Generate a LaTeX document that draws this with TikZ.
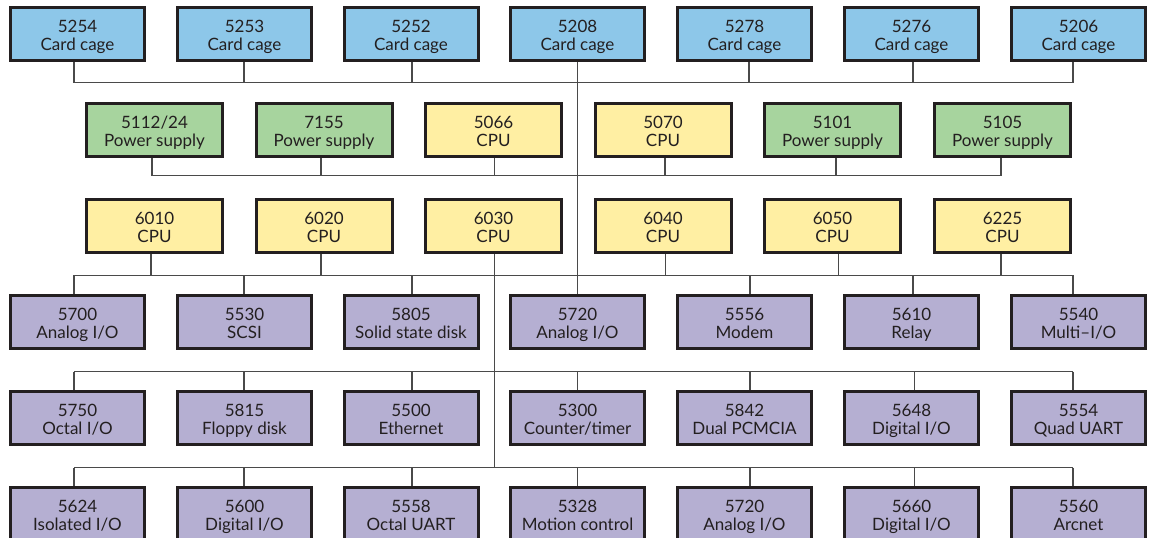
\documentclass[tikz,border=0pt]{standalone}
\usepackage{fontspec}
\setmainfont{Lato}
\usetikzlibrary{backgrounds}
\definecolor{cagefill}{HTML}{8DC7E9}
\definecolor{psufill}{HTML}{A7D49E}
\definecolor{cpufill}{HTML}{FFEFA3}
\definecolor{iofill}{HTML}{B5AFD2}
\definecolor{edgecol}{HTML}{231F20}
\definecolor{wirecol}{HTML}{4A4A4A}
\begin{document}
\begin{tikzpicture}[x=1pt,y=-1pt,
  box/.style={draw=edgecol,line width=3pt,minimum height=53pt,inner sep=0pt,
    align=center,font=\fontsize{17}{18}\selectfont,text=edgecol,
    text height=32pt,text depth=0pt},
  wsev/.style={box,minimum width=134pt},
  wsix/.style={box,minimum width=136pt},
  cagebox/.style={wsev,fill=cagefill},
  psubox/.style={wsix,fill=psufill},
  cpubox/.style={wsix,fill=cpufill},
  iobox/.style={wsev,fill=iofill},
  wire/.style={draw=wirecol,line width=1.5pt}]
\useasboundingbox (0,0) rectangle (1154,538);
\clip (0,0) rectangle (1154,538);

% row 1
\node[cagebox] (a1) at (77.5,34)  {5254\\Card cage};
\node[cagebox] (a2) at (244.5,34) {5253\\Card cage};
\node[cagebox] (a3) at (411,34)   {5252\\Card cage};
\node[cagebox] (a4) at (577.5,34) {5208\\Card cage};
\node[cagebox] (a5) at (744.5,34) {5278\\Card cage};
\node[cagebox] (a6) at (911.5,34) {5276\\Card cage};
\node[cagebox] (a7) at (1078.5,34){5206\\Card cage};
% row 2
\node[psubox] (b1) at (154.5,130) {5112/24\\Power supply};
\node[psubox] (b2) at (324,130)   {7155\\Power supply};
\node[cpubox] (b3) at (493.5,130) {5066\\CPU};
\node[cpubox] (b4) at (663,130)   {5070\\CPU};
\node[psubox] (b5) at (832.5,130) {5101\\Power supply};
\node[psubox] (b6) at (1002.5,130){5105\\Power supply};
% row 3
\node[cpubox] (c1) at (154.5,226) {6010\\CPU};
\node[cpubox] (c2) at (324,226)   {6020\\CPU};
\node[cpubox] (c3) at (493.5,226) {6030\\CPU};
\node[cpubox] (c4) at (663,226)   {6040\\CPU};
\node[cpubox] (c5) at (832.5,226) {6050\\CPU};
\node[cpubox] (c6) at (1002.5,226){6225\\CPU};
% row 4
\node[iobox] (d1) at (77.5,322)  {5700\\Analog I/O};
\node[iobox] (d2) at (244.5,322) {5530\\SCSI};
\node[iobox] (d3) at (411,322)   {5805\\Solid state disk};
\node[iobox] (d4) at (577.5,322) {5720\\Analog I/O};
\node[iobox] (d5) at (744.5,322) {5556\\Modem};
\node[iobox] (d6) at (911.5,322) {5610\\Relay};
\node[iobox] (d7) at (1078.5,322){5540\\Multi–I/O};
% row 5
\node[iobox] (e1) at (77.5,418)  {5750\\Octal I/O};
\node[iobox] (e2) at (244.5,418) {5815\\Floppy disk};
\node[iobox] (e3) at (411,418)   {5500\\Ethernet};
\node[iobox] (e4) at (577.5,418) {5300\\Counter/timer};
\node[iobox] (e5) at (744.5,418) {5842\\Dual PCMCIA};
\node[iobox] (e6) at (911.5,418) {5648\\Digital I/O};
\node[iobox] (e7) at (1078.5,418){5554\\Quad UART};
% row 6
\node[iobox] (f1) at (77.5,514)  {5624\\Isolated I/O};
\node[iobox] (f2) at (244.5,514) {5600\\Digital I/O};
\node[iobox] (f3) at (411,514)   {5558\\Octal UART};
\node[iobox] (f4) at (577.5,514) {5328\\Motion control};
\node[iobox] (f5) at (744.5,514) {5720\\Analog I/O};
\node[iobox] (f6) at (911.5,514) {5660\\Digital I/O};
\node[iobox] (f7) at (1078.5,514){5560\\Arcnet};

\coordinate (y1) at (0,82.7);
\coordinate (y2) at (0,175.7);
\coordinate (y3) at (0,275.3);
\coordinate (y4) at (0,371.7);
\coordinate (y5) at (0,467.7);

\begin{scope}[on background layer]
  % card cage bus
  \foreach \n/\dx in {a1/-3.5,a2/-0.5,a3/1,a5/4.5,a6/1.5,a7/-5.5}
    \draw[wire] ([xshift=\dx pt]\n.south) -- ([xshift=\dx pt]\n.south |- y1);
  \draw[wire] ([xshift=-3.5pt]a1.south |- y1) -- ([xshift=-5.5pt]a7.south |- y1);
  % trunk
  \draw[wire] (a4.south) -- (d4.north);
  % row 2 bus
  \foreach \n/\dx in {b1/-2.5,b2/-3,b3/1,b4/2,b5/3.5,b6/-1.5}
    \draw[wire] ([xshift=\dx pt]\n.south) -- ([xshift=\dx pt]\n.south |- y2);
  \draw[wire] ([xshift=-2.5pt]b1.south |- y2) -- ([xshift=-1.5pt]b6.south |- y2);
  % row 3 bus
  \foreach \n/\dx in {c1/-3.5,c2/-3,c4/2.5,c5/6,c6/-1.5}
    \draw[wire] ([xshift=\dx pt]\n.south) -- ([xshift=\dx pt]\n.south |- y3);
  \draw[wire] ([xshift=-3.5pt]d1.north |- y3) -- ([xshift=-5.5pt]d7.north |- y3);
  \foreach \n/\dx in {d1/-3.5,d2/-0.5,d3/1,d5/5.5,d6/1.5,d7/-5.5}
    \draw[wire] ([xshift=\dx pt]\n.north |- y3) -- ([xshift=\dx pt]\n.north);
  % 6030 riser
  \draw[wire] ([xshift=1pt]c3.south) -- ([xshift=1pt]c3.south |- y5);
  % row 5 bus
  \draw[wire] ([xshift=-3.5pt]e1.north |- y4) -- ([xshift=-5.5pt]e7.north |- y4);
  \foreach \n/\dx in {e1/-3.5,e2/-0.5,e3/1,e4/0,e5/5.5,e6/3,e7/-5.5}
    \draw[wire] ([xshift=\dx pt]\n.north |- y4) -- ([xshift=\dx pt]\n.north);
  % row 6 bus
  \draw[wire] ([xshift=-3.5pt]f1.north |- y5) -- ([xshift=-5.5pt]f7.north |- y5);
  \foreach \n/\dx in {f1/-3.5,f2/-0.5,f3/1,f4/0,f5/5.5,f6/3,f7/-5.5}
    \draw[wire] ([xshift=\dx pt]\n.north |- y5) -- ([xshift=\dx pt]\n.north);
\end{scope}
\end{tikzpicture}
\end{document}
